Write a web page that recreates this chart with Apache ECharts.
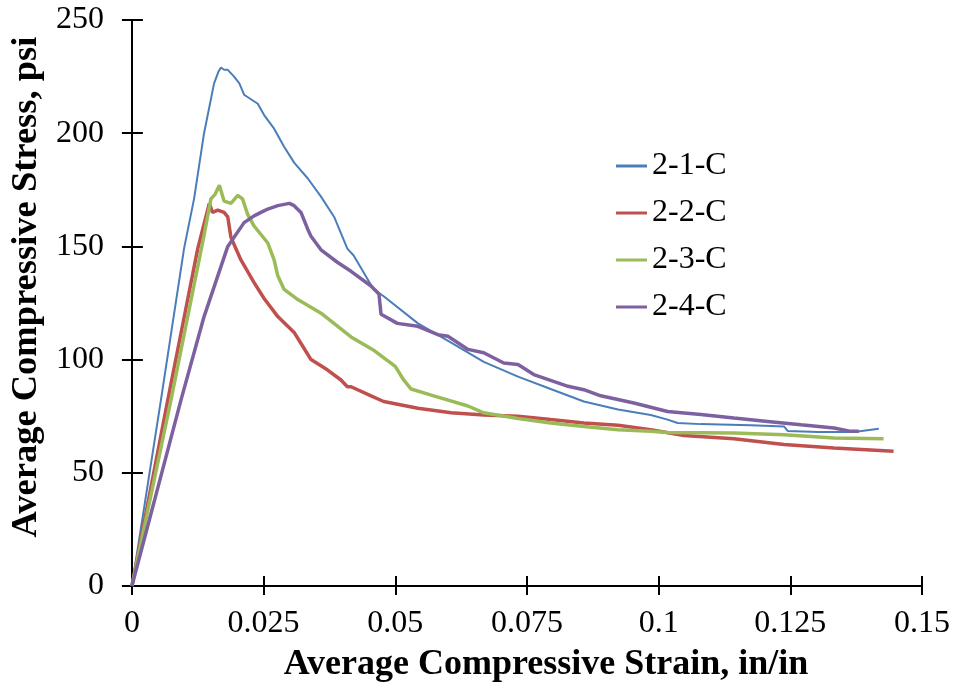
<!DOCTYPE html>
<html>
<head>
<meta charset="utf-8">
<script src="https://cdn.jsdelivr.net/npm/echarts@6/dist/echarts.min.js"></script>
<style>
html,body{margin:0;padding:0;background:#fff;}
#chart{width:956px;height:689px;}
</style>
</head>
<body>
<div id="chart"></div>
<script>
const seriesNames = ['2-1-C', '2-2-C', '2-3-C', '2-4-C'];
const seriesColors = ['#4a7ebb', '#c0504d', '#9bbb59', '#7d60a0'];

const s21C = [[0,0],[0.0055,82],[0.0099,149],[0.0118,171],[0.0137,200],[0.0156,222],[0.0164,227],[0.0169,229],[0.0175,228],[0.0182,228],[0.0194,225],[0.0204,222],[0.0213,217],[0.0226,215],[0.0239,213],[0.0251,208],[0.0270,202],[0.0289,194],[0.0308,187],[0.0334,180],[0.0359,172],[0.0384,163],[0.0409,149],[0.0421,146],[0.0459,131],[0.0478,128],[0.0543,116],[0.0606,107.5],[0.0668,99],[0.0733,92.5],[0.0795,87],[0.0858,81.5],[0.0923,78],[0.0985,75.5],[0.1017,73.5],[0.1036,72],[0.1080,71.5],[0.1175,71],[0.1238,70.5],[0.1245,68.5],[0.1302,68],[0.1371,68],[0.1418,69.5]];

const s22C = [[0,0],[0.0068,82],[0.0125,149],[0.0147,169],[0.0153,165],[0.0163,166],[0.0175,165],[0.0182,163],[0.0188,154],[0.0207,144],[0.0232,134],[0.0251,127],[0.0277,119],[0.0308,112],[0.0324,106],[0.0340,100],[0.0371,95.5],[0.0397,91],[0.0409,88],[0.0416,88],[0.0454,84],[0.0478,81.5],[0.0543,78.5],[0.0606,76.5],[0.0668,75.5],[0.0733,75],[0.0795,73.5],[0.0858,72],[0.0923,71],[0.0985,69],[0.1048,66.5],[0.1143,65],[0.1238,62.5],[0.1333,61],[0.1446,59.5]];

const s23C = [[0,0],[0.0074,82],[0.0137,155],[0.0150,171],[0.0158,173],[0.0166,177],[0.0175,170],[0.0188,169],[0.0201,172.5],[0.0210,171],[0.0220,164],[0.0232,159],[0.0258,151.5],[0.0270,144],[0.0277,137],[0.0289,131],[0.0315,126.5],[0.0359,120.5],[0.0416,110],[0.0460,104],[0.0500,97],[0.0516,91],[0.0530,87],[0.0573,84],[0.0638,79.5],[0.0668,76.5],[0.0733,74],[0.0795,72],[0.0858,70.5],[0.0923,69],[0.0985,68.3],[0.1017,67.8],[0.1143,67.6],[0.1238,66.8],[0.1333,65.4],[0.1427,65]];

const s24C = [[0,0],[0.0093,82],[0.0137,119],[0.0182,150],[0.0213,160.5],[0.0232,163.5],[0.0245,165],[0.0258,166.5],[0.0277,168],[0.0299,169],[0.0308,168],[0.0321,165],[0.0334,157.5],[0.0340,154.5],[0.0359,148.5],[0.0390,143],[0.0416,139],[0.0454,132.5],[0.0469,129],[0.0473,120],[0.0504,116],[0.0543,114.7],[0.0581,111],[0.0600,110.3],[0.0638,104.5],[0.0668,103],[0.0706,98.5],[0.0733,97.8],[0.0763,93.4],[0.0828,88.2],[0.0858,86.7],[0.0890,84],[0.0953,80.8],[0.1017,77.1],[0.1080,75.7],[0.1143,74.2],[0.1207,72.7],[0.1270,71.2],[0.1333,69.8],[0.1365,68.3],[0.1380,68.3]];

const seriesData = [s21C, s22C, s23C, s24C];
const seriesWidths = [2, 3.5, 3.5, 3.5];

const xMin = 0, xMax = 0.15, xStep = 0.025;
const yMin = 0, yMax = 250, yStep = 50;
const xTitle = 'Average Compressive Strain, in/in';
const yTitle = 'Average Compressive Stress, psi';

const FONT = '"Liberation Serif", "Times New Roman", serif';
const chart = echarts.init(document.getElementById('chart'));

const baseX = {type:'value', min:xMin, max:xMax, interval:xStep, splitLine:{show:false}};
const baseY = {type:'value', min:yMin, max:yMax, interval:yStep, splitLine:{show:false}};

chart.setOption({
  animation:false,
  backgroundColor:'#ffffff',
  grid:{left:130, right:34, top:20, bottom:103, containLabel:false},
  legend:{
    orient:'vertical', left:611, top:145, itemGap:15, itemWidth:31, itemHeight:3,
    icon:'rect',
    data:seriesNames,
    textStyle:{fontFamily:FONT, fontSize:32, color:'#000'}
  },
  xAxis:[
    Object.assign({}, baseX, {
      position:'bottom',
      name:xTitle, nameLocation:'middle', nameGap:61,
      nameTextStyle:{fontFamily:FONT, fontSize:36, fontWeight:'bold', color:'#000', padding:[0,0,0,38]},
      axisLine:{show:true, onZero:false, lineStyle:{color:'#000', width:2}},
      axisTick:{show:true, inside:false, length:9, lineStyle:{color:'#000', width:2}},
      axisLabel:{fontFamily:FONT, fontSize:32, color:'#000', margin:22}
    }),
    Object.assign({}, baseX, {
      position:'bottom',
      axisLine:{show:false, onZero:false},
      axisTick:{show:true, inside:true, length:10, lineStyle:{color:'#000', width:2}},
      axisLabel:{show:false}
    })
  ],
  yAxis:[
    Object.assign({}, baseY, {
      position:'left',
      name:yTitle, nameLocation:'middle', nameGap:85, nameRotate:90,
      nameTextStyle:{fontFamily:FONT, fontSize:36.5, fontWeight:'bold', color:'#000', padding:[0,0,0,32]},
      axisLine:{show:true, onZero:false, lineStyle:{color:'#000', width:2}},
      axisTick:{show:true, inside:false, length:10, lineStyle:{color:'#000', width:2}},
      axisLabel:{fontFamily:FONT, fontSize:32, color:'#000', margin:28}
    }),
    Object.assign({}, baseY, {
      position:'left',
      axisLine:{show:false, onZero:false},
      axisTick:{show:true, inside:true, length:11, lineStyle:{color:'#000', width:2}},
      axisLabel:{show:false}
    })
  ],
  series: seriesNames.map((n,i)=>({
    name:n, type:'line', xAxisIndex:0, yAxisIndex:0,
    data:seriesData[i], showSymbol:false, symbol:'none',
    lineStyle:{color:seriesColors[i], width:seriesWidths[i]},
    itemStyle:{color:seriesColors[i]}
  }))
});
</script>
</body>
</html>
